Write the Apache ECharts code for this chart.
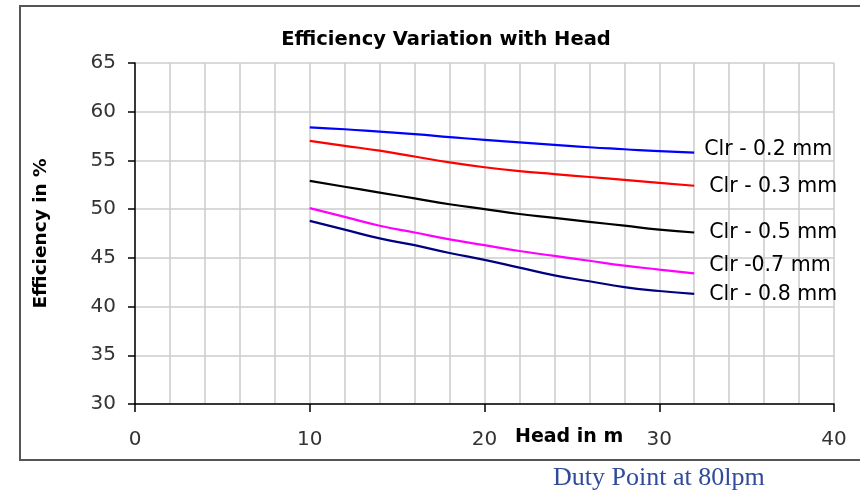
<!DOCTYPE html>
<html>
<head>
<meta charset="utf-8">
<script src="https://cdn.jsdelivr.net/npm/echarts@6/dist/echarts.min.js"></script>
<style>html,body{margin:0;padding:0;background:#fff;}#c{width:860px;height:491px;}</style>
</head>
<body>
<div id="c"></div>
<script>
const head = [10, 12, 14, 16, 18, 20, 22, 24, 26, 28, 30, 32];
const clr02 = [58.4, 58.2, 57.95, 57.7, 57.4, 57.1, 56.85, 56.6, 56.35, 56.15, 55.95, 55.8];
const clr03 = [57.0, 56.5, 56.0, 55.4, 54.8, 54.3, 53.9, 53.6, 53.3, 53.0, 52.7, 52.4];
const clr05 = [52.9, 52.3, 51.7, 51.1, 50.5, 50.0, 49.5, 49.1, 48.7, 48.3, 47.9, 47.6];
const clr07 = [50.1, 49.2, 48.3, 47.6, 46.9, 46.3, 45.7, 45.2, 44.7, 44.2, 43.8, 43.4];
const clr08 = [48.8, 47.9, 47.0, 46.3, 45.5, 44.8, 44.0, 43.2, 42.6, 42.0, 41.6, 41.3];
const seriesNames = ['Clr - 0.2 mm', 'Clr - 0.3 mm', 'Clr - 0.5 mm', 'Clr -0.7 mm', 'Clr - 0.8 mm'];
const xTicks = [0, 10, 20, 30, 40];
const yTicks = [30, 35, 40, 45, 50, 55, 60, 65];

const seriesData = [clr02, clr03, clr05, clr07, clr08];
const colors = ['#0000ff', '#ff0000', '#000000', '#ff00ff', '#000080'];
const labelOffsets = [[10, -3], [15, 1], [15, 0], [15, -8], [15, 1]];
const FONT = 'DejaVu Sans';

const chart = echarts.init(document.getElementById('c'));
chart.setOption({
  animation: false,
  backgroundColor: '#ffffff',
  title: {
    text: 'Efficiency Variation with Head',
    left: 441, top: 25, textAlign: 'center',
    textStyle: { fontFamily: FONT, fontWeight: 'bold', fontSize: 19.5, color: '#000' }
  },
  grid: { left: 135, right: 26, top: 63, bottom: 87 },
  xAxis: {
    type: 'value', min: xTicks[0], max: xTicks[xTicks.length - 1], interval: 10,
    axisLine: { lineStyle: { color: '#000', width: 1.5 } },
    axisTick: { show: true, length: 8, lineStyle: { color: '#000', width: 1.5 } },
    axisLabel: { margin: 26, fontFamily: FONT, fontSize: 20, color: '#333' },
    splitLine: { show: true, lineStyle: { color: '#cccccc', width: 1.5 } },
    minorTick: { show: false, splitNumber: 5 },
    minorSplitLine: { show: true, lineStyle: { color: '#cccccc', width: 1.5 } }
  },
  yAxis: {
    type: 'value', min: yTicks[0], max: yTicks[yTicks.length - 1], interval: 5,
    name: 'Efficiency in %', nameLocation: 'middle', nameGap: 84,
    nameTextStyle: { fontFamily: FONT, fontWeight: 'bold', fontSize: 18.5, color: '#000' },
    axisLine: { show: true, lineStyle: { color: '#000', width: 1.5 } },
    axisTick: { show: true, length: 7, lineStyle: { color: '#000', width: 1.5 } },
    axisLabel: { margin: 19, fontFamily: FONT, fontSize: 20, color: '#333' },
    splitLine: { show: true, lineStyle: { color: '#cccccc', width: 1.5 } }
  },
  graphic: [
    { type: 'rect', shape: { x: 20, y: 6, width: 860, height: 454 }, style: { fill: 'none', stroke: '#555', lineWidth: 2 }, z: -1 },
    { type: 'text', left: 515, top: 428, style: { text: 'Head in m', font: 'bold 19px "DejaVu Sans"', fill: '#000' } },
    { type: 'text', left: 553, top: 465, style: { text: 'Duty Point at 80lpm', font: '26px "Liberation Serif"', fill: '#2f4b9a' } }
  ],
  series: seriesData.map((arr, i) => ({
    name: seriesNames[i],
    type: 'line',
    smooth: true,
    showSymbol: false,
    data: head.map((h, j) => [h, arr[j]]),
    lineStyle: { color: colors[i], width: 2.2 },
    itemStyle: { color: colors[i] },
    endLabel: {
      show: true, formatter: seriesNames[i], distance: labelOffsets[i][0], offset: [0, labelOffsets[i][1]],
      fontFamily: FONT, fontSize: 20.5, color: '#000'
    }
  }))
});
</script>
</body>
</html>
